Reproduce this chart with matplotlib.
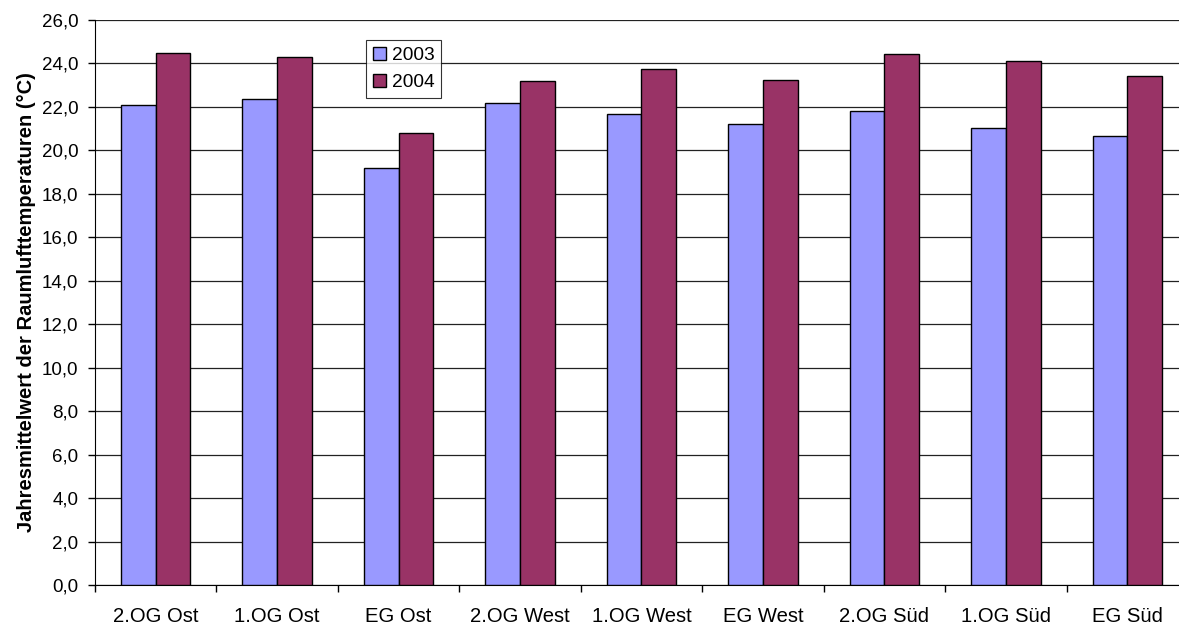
import numpy as np
import matplotlib
matplotlib.use("Agg")
import matplotlib.pyplot as plt
from matplotlib.ticker import FixedLocator, FuncFormatter

plt.rcParams['font.family'] = ['Liberation Sans', 'DejaVu Sans']

categories = ['2.OG Ost', '1.OG Ost', 'EG Ost', '2.OG West', '1.OG West',
              'EG West', '2.OG Süd', '1.OG Süd', 'EG Süd']
temp_2003 = [22.1, 22.35, 19.2, 22.17, 21.66, 21.22, 21.8, 21.03, 20.64]
temp_2004 = [24.5, 24.28, 20.82, 23.2, 23.76, 23.26, 24.44, 24.11, 23.44]
series_labels = ['2003', '2004']
yticks = np.arange(0, 26.1, 2)

fig = plt.figure(figsize=(11.79, 6.26), dpi=100)
# plot area runs slightly past the right edge, as in the original
ax = fig.add_axes([95 / 1179, 1 - 585 / 626, (1188 - 95) / 1179, (585 - 20) / 626])

x = np.arange(len(categories))
w = 1 / 3.5
ax.bar(x - w / 2, temp_2003, w, color='#9999FF', edgecolor='black', linewidth=1.0,
       label=series_labels[0], zorder=3)
ax.bar(x + w / 2, temp_2004, w, color='#993366', edgecolor='black', linewidth=1.0,
       label=series_labels[1], zorder=3)

ax.set_xlim(-0.5, len(categories) - 0.5)
ax.set_ylim(0, 26)
ax.set_yticks(yticks)
ax.yaxis.set_major_formatter(FuncFormatter(lambda v, p: f'{v:.1f}'.replace('.', ',')))
ax.grid(axis='y', color='#222222', linewidth=0.9, zorder=0)

ax.xaxis.set_major_locator(FixedLocator(np.arange(-0.5, len(categories), 1)))
ax.xaxis.set_major_formatter(FuncFormatter(lambda v, p: ''))
ax.set_xticks(x, minor=True)
ax.set_xticklabels(categories, minor=True)
ax.tick_params(axis='x', which='major', direction='out', length=5, width=1, color='black')
ax.tick_params(axis='x', which='minor', length=0, pad=16, labelsize=14.6)
ax.tick_params(axis='y', direction='out', length=5, width=1, pad=7, labelsize=13.5)

for s in ['top', 'right']:
    ax.spines[s].set_visible(False)
ax.spines['left'].set_color('black')
ax.spines['bottom'].set_color('black')

ax.set_ylabel('Jahresmittelwert der Raumlufttemperaturen (°C)', fontsize=14.5,
              fontweight='bold', labelpad=4)

leg = ax.legend(loc='upper left', bbox_to_anchor=((366 - 95) / 1093, 1 - 20 / 565),
                fontsize=13.8, frameon=True, fancybox=False, edgecolor='black',
                handlelength=0.7, handleheight=0.7, handletextpad=0.3,
                borderpad=0.35, labelspacing=0.5, borderaxespad=0)
leg.get_frame().set_linewidth(0.8)

fig.savefig('out.png', dpi=100)
